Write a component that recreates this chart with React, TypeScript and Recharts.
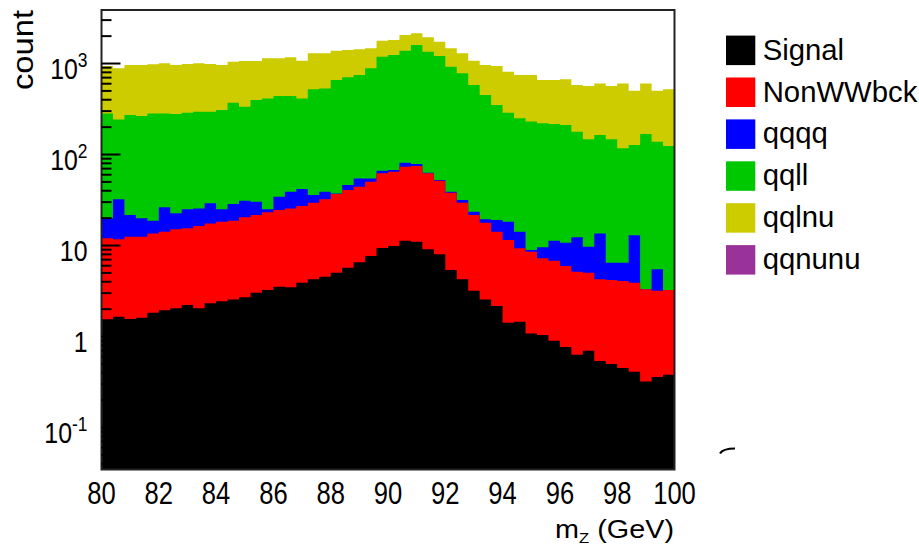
import { Area, ComposedChart, ReferenceArea, XAxis, YAxis } from "recharts";

// 50 bins of 0.4 GeV between 80 and 100 GeV
const binLow = Array.from({ length: 50 }, (_, i) => Number((80 + 0.4 * i).toFixed(1)));

// stack heights (cumulative counts) per bin
const signalTop = [
  1.55, 1.65, 1.56, 1.61, 1.83, 1.95, 2.04, 2.22, 2.04, 2.32,
  2.45, 2.56, 2.7, 3.03, 3.24, 3.53, 3.47, 3.9, 4.25, 4.54,
  5.02, 5.7, 6.54, 7.67, 9.39, 9.87, 11.3, 11.0, 9.08, 8.0,
  5.38, 4.25, 3.19, 2.56, 2.16, 1.42, 1.45, 1.08, 1.04, 0.9,
  0.77, 0.63, 0.7, 0.54, 0.5, 0.45, 0.41, 0.32, 0.36, 0.38,
];
const nonWWTop = [
  12.0, 11.7, 12.5, 12.5, 13.6, 14.2, 15.1, 15.5, 16.4, 17.5,
  18.3, 18.7, 20.4, 21.6, 23.2, 24.5, 25.6, 27.2, 29.5, 32.2,
  36.8, 40.7, 44.3, 50.2, 62.1, 64.7, 73.4, 74.7, 62.1, 51.5,
  38.0, 29.5, 21.6, 17.8, 14.2, 11.5, 9.31, 8.55, 7.23, 6.81,
  5.95, 5.15, 5.02, 4.25, 4.18, 4.07, 3.9, 3.3, 3.19, 3.24,
];
const qqqqTop = [
  19.9, 32.2, 21.6, 19.9, 18.7, 26.3, 22.6, 25.0, 25.6, 29.1,
  25.0, 28.6, 31.1, 30.3, 25.0, 34.4, 39.0, 41.8, 35.9, 39.0,
  37.4, 46.2, 54.7, 54.7, 66.4, 67.5, 81.2, 78.6, 63.1, 52.5,
  39.0, 31.6, 23.5, 19.4, 19.1, 18.3, 14.2, 8.91, 9.55, 11.3,
  10.7, 12.3, 9.7, 13.6, 6.47, 6.47, 13.0, 3.3, 5.48, 3.24,
];
const qqllTop = [
  283, 243, 272, 265, 283, 283, 279, 288, 296, 296,
  308, 371, 335, 397, 414, 439, 439, 414, 520, 533,
  659, 705, 747, 885, 1189, 1240, 1384, 1597, 1349, 1208,
  923, 780, 580, 451, 350, 288, 250, 230, 220, 216,
  211, 178, 147, 164, 147, 117, 127, 168, 138, 124,
];
const qqlnuTop = [
  939, 885, 963, 963, 980, 1004, 963, 988, 1004, 988,
  963, 1047, 1065, 1065, 1140, 1140, 1169, 1074, 1294, 1294,
  1384, 1407, 1431, 1468, 1782, 1811, 2055, 2146, 1940, 1738,
  1468, 1294, 1074, 963, 939, 813, 747, 747, 659, 659,
  670, 580, 566, 605, 566, 605, 503, 605, 503, 520,
];

const xTicks = [80, 82, 84, 86, 88, 90, 92, 94, 96, 98, 100];
const yLabels = [
  { v: 0.1, base: "10", sup: "-1" },
  { v: 1, base: "1", sup: "" },
  { v: 10, base: "10", sup: "" },
  { v: 100, base: "10", sup: "2" },
  { v: 1000, base: "10", sup: "3" },
];
const legendItems = [
  { name: "Signal", color: "#000000" },
  { name: "NonWWbck", color: "#ff0000" },
  { name: "qqqq", color: "#0000ff" },
  { name: "qqll", color: "#00c800" },
  { name: "qqlnu", color: "#cccc00" },
  { name: "qqnunu", color: "#993399" },
];

const Y_MIN = 0.0346;
const Y_MAX = 3874;
const PLOT_LEFT = 101.5;
const FONT = "'Liberation Sans', Arial, Helvetica, sans-serif";

const decades = [0.01, 0.1, 1, 10, 100, 1000];
const yTicks = decades
  .flatMap((d) => [1, 2, 3, 4, 5, 6, 7, 8, 9].map((m) => Number((m * d).toPrecision(3))))
  .filter((v) => v >= Y_MIN && v <= Y_MAX);

const rows = binLow.map((x, i) => ({
  x,
  signal: signalTop[i],
  nonww: nonWWTop[i],
  qqqq: qqqqTop[i],
  qqll: qqllTop[i],
  qqlnu: qqlnuTop[i],
}));
rows.push({ ...rows[rows.length - 1], x: 100 });

// back to front
const layers = [
  { key: "qqlnu", color: "#cccc00" },
  { key: "qqll", color: "#00c800" },
  { key: "qqqq", color: "#0000ff" },
  { key: "nonww", color: "#ff0000" },
  { key: "signal", color: "#000000" },
];

function YTick(props: any) {
  const { y, payload } = props;
  const label = yLabels.find((l) => Math.abs(l.v - payload.value) < 1e-9);
  return (
    <g>
      <line
        x1={PLOT_LEFT}
        x2={PLOT_LEFT + (label ? 19 : 10)}
        y1={y}
        y2={y}
        stroke="#000"
        strokeWidth={2}
      />
      {label && (
        <text
          transform={`translate(87.5, ${y + 15}) scale(0.83, 1)`}
          textAnchor="end"
          fontSize={30}
          fontFamily={FONT}
          fill="#000"
        >
          {label.base}
          {label.sup && (
            <tspan fontSize={21} dy={-11.7}>
              {label.sup}
            </tspan>
          )}
        </text>
      )}
    </g>
  );
}

function XTick(props: any) {
  const { x, payload } = props;
  return (
    <text
      transform={`translate(${x}, 503.5) scale(0.8, 1)`}
      textAnchor="middle"
      fontSize={32}
      fontFamily={FONT}
      fill="#000"
    >
      {payload.value}
    </text>
  );
}

function CountTitle() {
  return (
    <text
      transform="translate(33.3, 90) rotate(-90)"
      fontSize={30}
      fontFamily={FONT}
      textLength={80}
      lengthAdjust="spacingAndGlyphs"
      fill="#000"
    >
      count
    </text>
  );
}

function MassTitle() {
  return (
    <text
      x={555}
      y={537.5}
      fontSize={26}
      fontFamily={FONT}
      fill="#000"
      textLength={119}
      lengthAdjust="spacingAndGlyphs"
    >
      m
      <tspan dy={5.5} fontSize={15}>
        Z
      </tspan>
      <tspan dy={-5.5}> (GeV)</tspan>
    </text>
  );
}

function StackLegend() {
  return (
    <svg
      width={219}
      height={440}
      style={{ position: "absolute", left: 700, top: 20, display: "block" }}
    >
      {legendItems.map((item, i) => (
        <g key={item.name} transform={`translate(0, ${15.6 + i * 41.9})`}>
          <rect x={26} y={0} width={29.3} height={29.5} fill={item.color} />
          <text x={62.7} y={24} fontSize={29.3} fontFamily={FONT} fill="#000">
            {item.name}
          </text>
        </g>
      ))}
      <path d="M20 433.5 Q23 428.5 35 428.5" stroke="#000" strokeWidth={2.2} fill="none" />
    </svg>
  );
}

export default function App() {
  return (
    <div style={{ position: "absolute", left: 0, top: 0, width: 919, height: 547, background: "#fff" }}>
      <ComposedChart
        width={919}
        height={547}
        data={rows}
        margin={{ top: 10, right: 244.5, bottom: 0, left: 0 }}
      >
        {layers.map((l) => (
          <Area
            key={l.key}
            dataKey={l.key}
            type="stepAfter"
            fill={l.color}
            fillOpacity={1}
            stroke="none"
            baseValue={Y_MIN}
            dot={false}
            activeDot={false}
            isAnimationActive={false}
          />
        ))}
        <XAxis
          dataKey="x"
          type="number"
          domain={[80, 100]}
          ticks={xTicks}
          allowDataOverflow
          axisLine={false}
          tickLine={false}
          height={77.5}
          tick={<XTick />}
          label={<MassTitle />}
        />
        <YAxis
          scale="log"
          type="number"
          domain={[Y_MIN, Y_MAX]}
          ticks={yTicks}
          allowDataOverflow
          axisLine={false}
          tickLine={false}
          width={101.5}
          tick={<YTick />}
          interval={0}
          label={<CountTitle />}
        />
        <ReferenceArea
          x1={80}
          x2={100}
          y1={Y_MIN}
          y2={Y_MAX}
          fill="none"
          stroke="#222"
          strokeWidth={2}
          ifOverflow="visible"
        />
      </ComposedChart>
      <StackLegend />
    </div>
  );
}
